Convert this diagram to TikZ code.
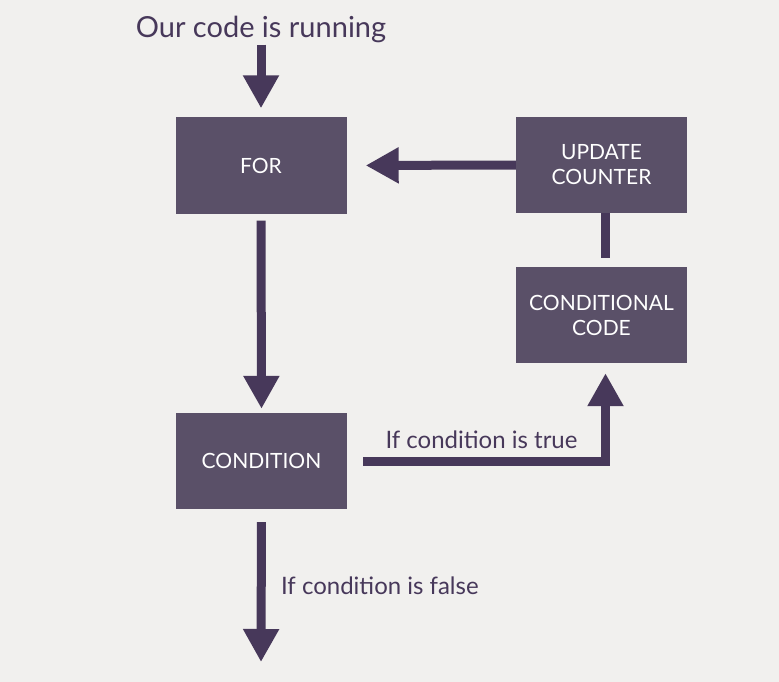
\documentclass[tikz,border=0pt]{standalone}
\usepackage{fontspec}
\setmainfont{Lato}
\usetikzlibrary{arrows.meta, positioning}

\definecolor{paper}{HTML}{F1F0EE}
\definecolor{boxfill}{HTML}{5A5068}
\definecolor{plum}{HTML}{47385A}

\tikzset{
    stepbox/.style={fill=boxfill, text=white, align=center,
        minimum width=171pt, minimum height=96pt, inner sep=0pt,
        font=\fontsize{21}{25}\selectfont},
    flow/.style={draw=plum, line width=9pt,
        -{Triangle[width=34pt, length=33pt]}},
    link/.style={draw=plum, line width=9pt},
    note/.style={text=plum, font=\fontsize{24}{28}\selectfont}
}

\begin{document}
\begin{tikzpicture} [x=1pt, y=-1pt]
    \fill[paper] (0,0) rectangle (779,682);
    \useasboundingbox (0,0) rectangle (779,682);

    % boxes
    \node[stepbox] (for) at (261,165.5) {FOR};
    \node[stepbox] (update) at (601.5,165) {UPDATE\\COUNTER};
    \node[stepbox] (conditional) at (601.5,315) {CONDITIONAL\\CODE};
    \node[stepbox] (condition) at (261.5,461) {CONDITION};

    \node[note, font=\fontsize{29}{33}\selectfont, inner sep=0pt] (start) at (261,29) {Our code is running};
    \coordinate (exit) at (261,662);

    % connectors
    \draw[flow, shorten <=2pt, shorten >=9pt] (start.south) -- (for.north);
    \draw[flow, shorten <=7pt, shorten >=4pt] (for.south) -- (condition.north);
    \draw[flow, shorten >=19pt] (update.west) -- (for.east);
    \draw[link, shorten >=9pt] ([xshift=4pt]update.south) -- ([xshift=4pt]conditional.north);
    \draw[flow, shorten <=16pt, shorten >=10pt] (condition.east)
        -| ([xshift=4pt]conditional.south)
        node[note, pos=0.26, above=4pt] (truelabel) {If condition is true};
    \draw[flow, shorten <=13pt] (condition.south) -- (exit)
        node[note, pos=0.5, right=12pt] (falselabel) {If condition is false};
\end{tikzpicture}
\end{document}
